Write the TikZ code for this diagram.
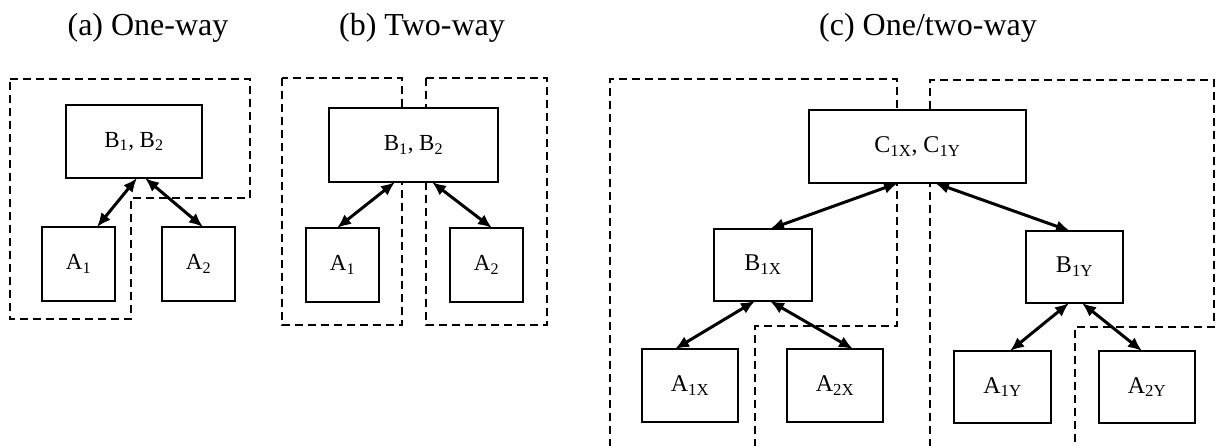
\documentclass[tikz,border=0pt]{standalone}
\usepackage{fontspec}
\setmainfont{Liberation Serif}
\usetikzlibrary{arrows.meta}
\begin{document}
\begin{tikzpicture}[x=1pt,y=-1pt,
  box/.style={draw, line width=2.6pt, fill=white, inner sep=0pt, outer sep=0pt, font=\fontsize{23}{25}\selectfont},
  cbox/.style={box, font=\fontsize{24}{26}\selectfont},
  link/.style={line width=3pt, {Latex[length=14pt,width=12pt]}-{Latex[length=14pt,width=12pt]}},
  region/.style={line width=2.4pt, dash pattern=on 8pt off 5pt},
  title/.style={font=\fontsize{32}{36}\selectfont, anchor=base, inner sep=0pt}]
\useasboundingbox (0,0) rectangle (1217,445);

% titles
\node[title] (ta) at (148,35) {(a) One-way};
\node[title] (tb) at (422,35) {(b) Two-way};
\node[title] (tc) at (928,35) {(c) One/two-way};

% dashed regions
\draw[region] (10,79) -- (250,79) -- (250,198) -- (131,198) -- (131,319) -- (10,319) -- cycle;
\draw[region] (282,78) rectangle (402,325);
\draw[region] (426,78) rectangle (547,325);
\draw[region] (610,447) -- (610,79) -- (897,79) -- (897,326) -- (755,326) -- (755,447);
\draw[region] (930,447) -- (930,80) -- (1214,80) -- (1214,327) -- (1075,327) -- (1075,447);

% (a)
\node[box, minimum width=136pt, minimum height=73pt] (aB) at (134,141.5) {B\textsubscript{1}, B\textsubscript{2}};
\node[box, minimum width=73pt, minimum height=74pt] (aA1) at (78.5,264) {A\textsubscript{1}};
\node[box, minimum width=73pt, minimum height=74pt] (aA2) at (198.5,264) {A\textsubscript{2}};
\draw[link] ([xshift=3pt]aB.south) -- ([xshift=18.5pt]aA1.north);
\draw[link] ([xshift=11pt]aB.south) -- ([xshift=4.5pt]aA2.north);

% (b)
\node[box, minimum width=169pt, minimum height=74pt] (bB) at (413.5,145) {B\textsubscript{1}, B\textsubscript{2}};
\node[box, minimum width=73pt, minimum height=74pt] (bA1) at (342.5,265) {A\textsubscript{1}};
\node[box, minimum width=73pt, minimum height=74pt] (bA2) at (486.5,265) {A\textsubscript{2}};
\draw[link] ([xshift=-18.5pt]bB.south) -- ([xshift=-5.5pt]bA1.north);
\draw[link] ([xshift=18.5pt]bB.south) -- ([xshift=5.5pt]bA2.north);

% (c)
\node[cbox, minimum width=217pt, minimum height=73pt] (cC) at (917.5,146.5) {C\textsubscript{1X}, C\textsubscript{1Y}};
\node[cbox, minimum width=98pt, minimum height=72pt] (cBX) at (763,265) {B\textsubscript{1X}};
\node[cbox, minimum width=97pt, minimum height=72pt] (cBY) at (1074.5,267) {B\textsubscript{1Y}};
\node[cbox, minimum width=96pt, minimum height=73pt] (cA1X) at (690,385.5) {A\textsubscript{1X}};
\node[cbox, minimum width=96pt, minimum height=73pt] (cA2X) at (835,385.5) {A\textsubscript{2X}};
\node[cbox, minimum width=97pt, minimum height=72pt] (cA1Y) at (1002.5,387) {A\textsubscript{1Y}};
\node[cbox, minimum width=96pt, minimum height=72pt] (cA2Y) at (1147,387) {A\textsubscript{2Y}};
\draw[link] ([xshift=-19.5pt]cC.south) -- ([xshift=7pt]cBX.north);
\draw[link] ([xshift=17.5pt]cC.south) -- ([xshift=-4.5pt]cBY.north);
\draw[link] ([xshift=-8pt]cBX.south) -- ([xshift=-15pt]cA1X.north);
\draw[link] ([xshift=7pt]cBX.south) -- ([xshift=18pt]cA2X.north);
\draw[link] ([xshift=-5.5pt]cBY.south) -- ([xshift=7.5pt]cA1Y.north);
\draw[link] ([xshift=7.5pt]cBY.south) -- ([xshift=-5pt]cA2Y.north);
\end{tikzpicture}
\end{document}
